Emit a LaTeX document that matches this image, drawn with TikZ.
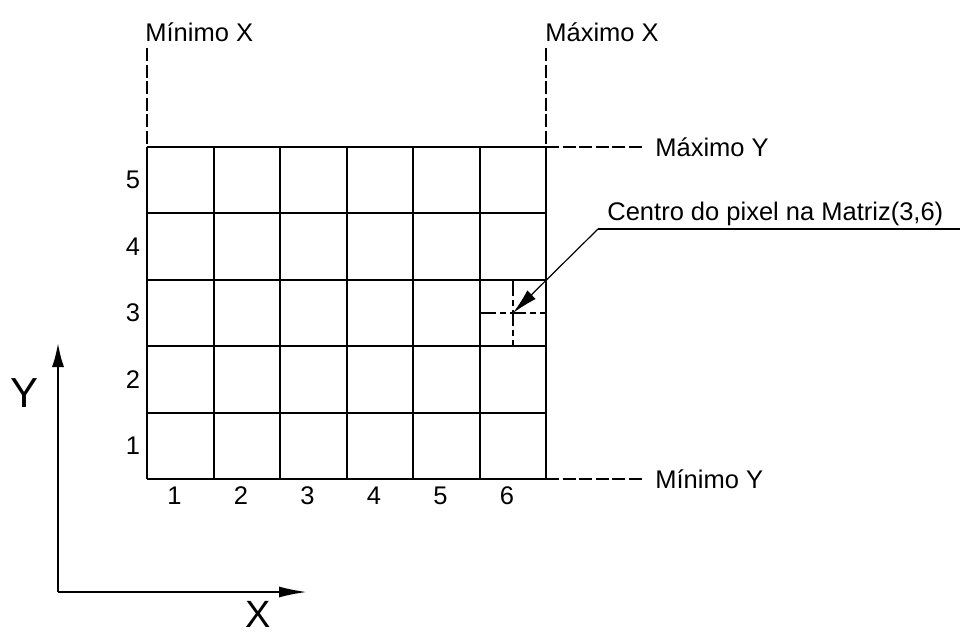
\documentclass[tikz,border=0pt]{standalone}
\usepackage{fontspec}
\setmainfont{Liberation Sans}
\usetikzlibrary{arrows.meta}
\begin{document}
\begin{tikzpicture}[x=0.5pt, y=-0.5pt, >={Latex[length=13pt,width=6pt]},
        lbl/.style={font=\fontsize{12.75}{15}\selectfont, inner sep=0pt},
        big/.style={font=\fontsize{21}{25}\selectfont, inner sep=0pt},
        gridline/.style={line width=1pt},
        guide/.style={line width=0.8pt, dash pattern=on 6.5pt off 1.8pt},
        cross/.style={line width=0.8pt, dash pattern=on 8pt off 2pt on 3pt off 2pt}]
        \useasboundingbox (0,0) rectangle (960,633);

        % Grid 6x5
        \foreach \i in {0,...,6}
            \draw[gridline] ({147+66.5*\i},147) -- ({147+66.5*\i},479);
        \foreach \j in {0,...,5}
            \draw[gridline] (147,{147+66.4*\j}) -- (546,{147+66.4*\j});

        % Column and row numbers
        \foreach \i in {1,...,6}
            \node[lbl] (col\i) at ({147+66.5*\i-39},496) {\i};
        \foreach \j in {1,...,5}
            \node[lbl] (row\j) at (133,{479-66.4*\j+33}) {\j};

        % Limits
        \coordinate (minx) at (147,48);
        \coordinate (maxx) at (546,48);
        \coordinate (tl) at (147,147);
        \coordinate (tr) at (546,147);
        \coordinate (br) at (546,479);
        \coordinate (maxyend) at (645,147);
        \coordinate (minyend) at (645,479);
        \draw[guide] (minx) -- (tl);
        \draw[guide] (maxx) -- (tr);
        \draw[guide] (tr) -- (maxyend);
        \draw[guide] (br) -- (minyend);
        \node[lbl, anchor=base west] (minxlbl) at (145,41) {Mínimo X};
        \node[lbl, anchor=base west] (maxxlbl) at (545,41) {Máximo X};
        \node[lbl, anchor=base west] (maxylbl) at (655,156) {Máximo Y};
        \node[lbl, anchor=base west] (minylbl) at (655,488) {Mínimo Y};

        % Pixel (3,6) and its centre
        \coordinate (ctr) at (513,313);
        \draw[cross] (480,313) -- (546,313);
        \draw[cross] (513,280) -- (513,347);

        % Leader
        \coordinate (lead) at (598,229);
        \coordinate (leadend) at (960,229);
        \node[lbl, anchor=base west] (ctrlbl) at (607,220) {Centro do pixel na Matriz(3,6)};
        \draw[line width=0.6pt] (leadend) -- (lead);
        \draw[line width=0.6pt, ->] (lead) -- (ctr);

        % Axes
        \coordinate (O) at (58,592);
        \coordinate (ytip) at (58,343);
        \coordinate (xtip) at (307,592);
        \draw[line width=1pt, -{Latex[length=12pt,width=6pt]}] (O) -- (ytip);
        \draw[line width=1pt, -{Latex[length=14pt,width=5.5pt]}] (O) -- (xtip);
        \node[big] (ylbl) at (25,393) {Y};
        \node[big, font=\fontsize{19}{23}\selectfont] (xlbl) at (258,614) {X};
    \end{tikzpicture}
\end{document}
